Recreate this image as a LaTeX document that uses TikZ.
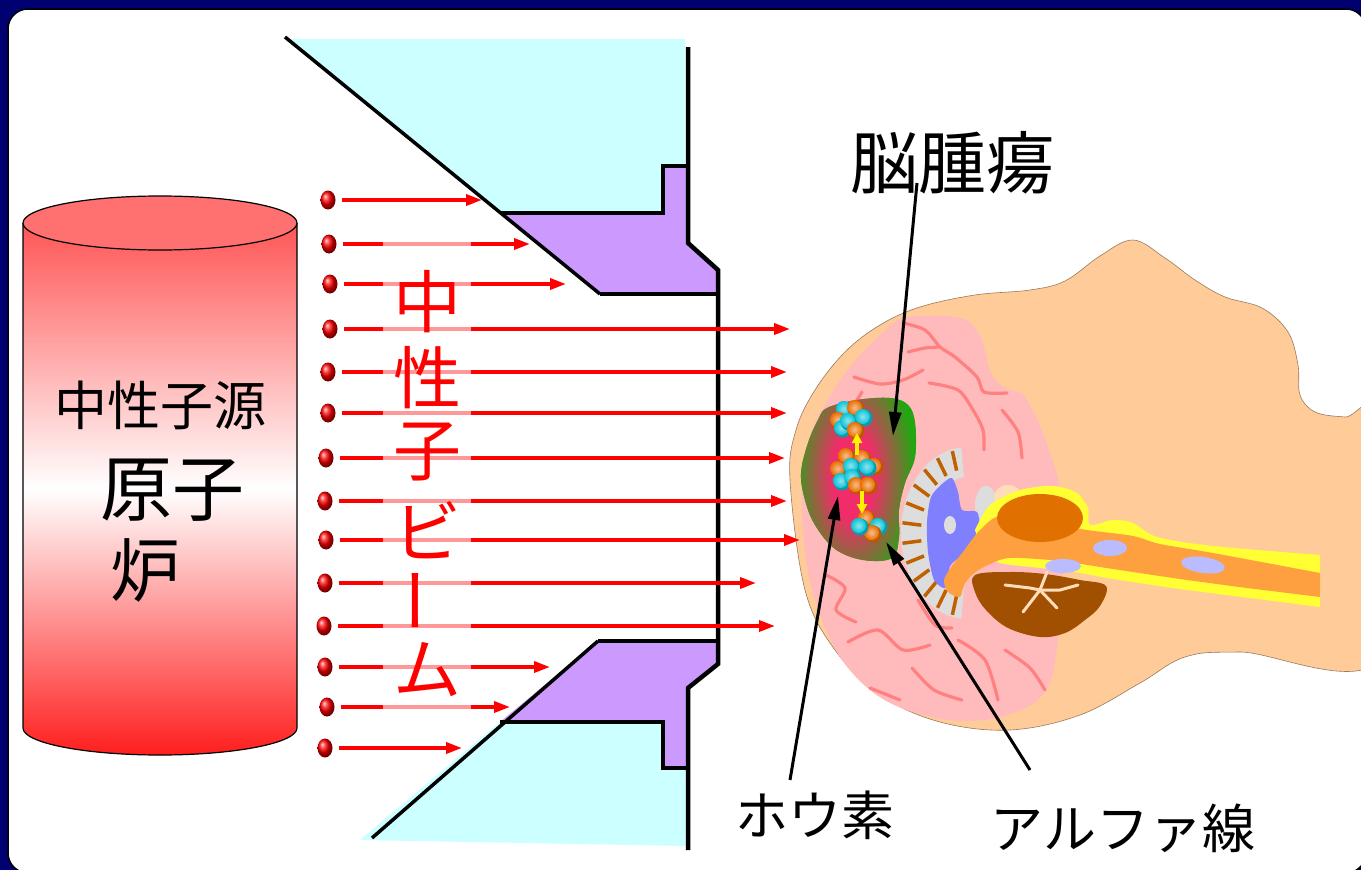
\documentclass[tikz,border=0pt]{standalone}
\usepackage{fontspec}
\setmainfont{Noto Sans CJK JP}
\usetikzlibrary{arrows.meta,shapes.geometric}

\definecolor{frameblue}{RGB}{0,0,112}
\definecolor{shieldcyan}{RGB}{204,255,255}
\definecolor{shieldlilac}{RGB}{204,153,255}
\definecolor{cyltop}{RGB}{255,112,112}
\definecolor{cylupper}{RGB}{255,85,85}
\definecolor{cylbot}{RGB}{255,30,30}
\definecolor{skin}{RGB}{255,204,153}
\definecolor{brainpink}{RGB}{255,187,187}
\definecolor{foldpink}{RGB}{255,128,128}
\definecolor{tumorgreen}{RGB}{36,165,18}
\definecolor{tumorcore}{RGB}{240,45,105}
\definecolor{ventgrey}{RGB}{221,221,221}
\definecolor{tickbrown}{RGB}{192,96,0}
\definecolor{ventblue}{RGB}{128,128,255}
\definecolor{stemyellow}{RGB}{255,255,51}
\definecolor{stemorange}{RGB}{255,160,64}
\definecolor{ponsorange}{RGB}{224,112,0}
\definecolor{cerebbrown}{RGB}{160,80,0}
\definecolor{paleskin}{RGB}{255,221,187}
\definecolor{lilacspot}{RGB}{187,187,255}
\definecolor{atomorange}{RGB}{235,110,0}
\definecolor{atomcyan}{RGB}{10,195,215}

% glowing core of the tumour, fading to green
\pgfdeclareradialshading{tumorglow}{\pgfpoint{0bp}{0bp}}{%
  color(0bp)=(tumorcore); color(6bp)=(tumorcore);
  color(17bp)=(tumorgreen); color(50bp)=(tumorgreen)}

\tikzset{
  beam/.style={red, line width=3.5pt, shorten <=6pt, -{Triangle[length=16pt,width=11pt]}},
  beamdot/.style={ellipse, minimum width=15pt, minimum height=19pt, inner sep=0pt,
                  shading=ball, ball color=red},
  pointer/.style={black, line width=3pt, -{Triangle[length=24pt,width=12pt]}},
  shieldline/.style={black, line width=4.5pt, line join=miter},
  brainfold/.style={foldpink, line width=3.2pt, line cap=round},
  ventick/.style={tickbrown, line width=3.5pt},
  treeline/.style={paleskin, line width=3pt, line cap=round},
  hoparrow/.style={yellow, line width=4pt, -{Triangle[length=10pt,width=10pt]}},
  caption/.style={font=\fontsize{53}{53}\selectfont, inner sep=0pt},
  beamchar/.style={text=red, font=\fontsize{68}{68}\selectfont, inner sep=0pt},
  cyltext/.style={inner sep=0pt},
}

% one glossy sphere of a boron cluster
\newcommand{\atom}[3]{%
  \fill[#1!80!black] (#2,#3) circle[radius=8.5pt];
  \shade[inner color=#1!45!white, outer color=#1] (#2-1.5,#3-1.5) circle[radius=7.5pt];}

\begin{document}
\begin{tikzpicture}[x=1pt,y=-1pt]
\useasboundingbox (0,0) rectangle (1361,870);

% frame and card
\fill[frameblue] (0,0) rectangle (1361,870);
\filldraw[fill=white, draw=black, line width=1.5pt, rounded corners=20pt] (8,9) rectangle (1366,873);

% ---------------- head ----------------
\filldraw[fill=skin, draw=skin!60!black, line width=0.6pt]
  plot[smooth cycle, tension=0.6] coordinates {
  (790,480) (796,430) (815,390) (845,352) (880,325) (920,307) (975,295) (1030,290)
  (1065,281) (1100,256) (1133,240) (1165,258) (1195,280) (1225,297) (1262,308)
  (1288,332) (1298,365) (1300,395) (1315,412) (1345,417) (1385,418) (1385,655)
  (1240,652) (1185,657) (1140,683) (1080,715) (1010,730) (940,722) (880,695)
  (835,650) (805,590)};

% brain
\fill[brainpink] plot[smooth cycle, tension=0.6] coordinates {
  (836,387) (854,362) (880,335) (903,318) (940,316) (966,320) (981,338) (990,370)
  (1003,387) (1022,394) (1036,417) (1048,447) (1060,490) (1063,560) (1058,640)
  (1045,692) (1005,716) (950,720) (890,703) (848,668) (822,620) (806,560)
  (802,480) (812,430)};

% folds of the cortex
\draw[brainfold] plot[smooth] coordinates {(903,323) (925,330) (940,347) (955,357) (977,377) (984,392) (1007,393)};
\draw[brainfold] plot[smooth] coordinates {(854,377) (880,384) (903,380) (923,370)};
\draw[brainfold] plot[smooth] coordinates {(929,383) (958,390) (973,410) (983,430) (984,450)};
\draw[brainfold] plot[smooth] coordinates {(908,352) (925,348) (940,347)};
\draw[brainfold] plot[smooth] coordinates {(862,392) (852,408)};
\draw[brainfold] plot[smooth] coordinates {(1002,410) (1018,432) (1022,458)};
\draw[brainfold] plot[smooth] coordinates {(826,575) (845,588) (836,610) (856,622)};
\draw[brainfold] plot[smooth] coordinates {(848,642) (878,630) (903,650) (930,645)};
\draw[brainfold] plot[smooth] coordinates {(912,668) (934,690) (962,700)};
\draw[brainfold] plot[smooth] coordinates {(958,640) (985,660) (998,700)};
\draw[brainfold] plot[smooth] coordinates {(1005,650) (1030,668) (1045,690)};
\draw[brainfold] plot[smooth] coordinates {(870,688) (900,700)};
\draw[brainfold] plot[smooth] coordinates {(918,600) (935,625) (952,628)};

% ventricle crescent with ticks
\begin{scope}[shift={(967,533)}]
  \fill[ventgrey] (95:66pt and 86pt) arc[start angle=95, end angle=265, x radius=66pt, y radius=86pt]
     -- (265:36pt and 56pt) arc[start angle=265, end angle=95, x radius=36pt, y radius=56pt] -- cycle;
  \foreach \a in {103,117,...,257}
    \draw[ventick] (\a:46pt and 64pt) -- (\a:65pt and 84pt);
\end{scope}
\fill[ventgrey] (986,506) ellipse[x radius=11pt, y radius=20pt];
\fill[ventblue] plot[smooth cycle, tension=0.45] coordinates {
  (952,478) (958,492) (962,510) (977,512) (980,530) (977,548) (962,556) (950,566)
  (946,588) (934,580) (928,552) (927,522) (931,497) (942,484)};
\fill[ventgrey] (950,525) ellipse[x radius=6pt, y radius=9pt];

% brainstem, cerebellum and spinal cord
\fill[paleskin] (1008,497) ellipse[x radius=14pt, y radius=12pt];
\fill[cerebbrown] plot[smooth cycle, tension=0.6] coordinates {
  (975,575) (1010,572) (1045,574) (1080,580) (1106,586) (1100,606) (1085,620)
  (1065,633) (1040,637) (1008,628) (986,610) (975,592)};
\fill[stemyellow] plot[smooth] coordinates {(975,530) (990,505) (1020,490) (1053,486) (1077,493) (1088,508) (1090,525) (1113,520) (1133,523) (1157,537) (1213,546) (1320,555)}
  -- (1320,607) -- plot[smooth] coordinates {(1250,598) (1180,589) (1113,579) (1080,573) (1040,568) (1000,563) (982,552)} -- cycle;
\fill[stemorange] plot[smooth] coordinates {(966,548) (980,530) (1000,516) (1040,522) (1087,530) (1133,536) (1160,544) (1213,553) (1320,573)}
  -- (1320,597) -- plot[smooth] coordinates {(1247,588) (1180,579) (1113,569) (1060,561) (1010,558) (988,565) (973,574) (964,585) (960,597) (948,592) (944,580) (952,566)} -- cycle;
\fill[ponsorange] (1040,518) ellipse[x radius=43pt, y radius=24pt];
\fill[lilacspot] (1110,548) ellipse[x radius=17pt, y radius=8pt];
\fill[lilacspot, rotate around={-8:(1203,565)}] (1203,565) ellipse[x radius=22pt, y radius=8pt];
\fill[lilacspot] (1063,566) ellipse[x radius=18pt, y radius=7pt];
\draw[treeline] (1047,572) -- (1040,590) -- (1023,612);
\draw[treeline] (1040,590) -- (1057,608);
\draw[treeline] (1040,590) -- (1030,588) -- (1005,585);
\draw[treeline] (1040,590) -- (1060,590) -- (1078,585);

% tumour: green mass with an elongated glowing core
\begin{scope}
  \clip plot[smooth cycle, tension=0.6] coordinates {
    (827,408) (857,400) (890,398) (908,405) (915,423) (915,457) (905,483) (899,510)
    (899,537) (892,558) (863,560) (835,549) (815,525) (805,500) (801,473) (808,443) (818,420)};
  \fill[tumorgreen] (790,390) rectangle (930,570);
  \begin{scope}[transform canvas={shift={(853,476)}, xscale=0.5}]
    \shade[shading=tumorglow] (0,0) circle[radius=180pt];
  \end{scope}
\end{scope}

% boron clusters
\atom{atomcyan}{845}{410} \atom{atomorange}{856}{409} \atom{atomorange}{839}{421}
\atom{atomcyan}{843}{429} \atom{atomcyan}{849}{422} \atom{atomcyan}{864}{418}
\atom{atomorange}{856}{431}
\atom{atomorange}{847}{457} \atom{atomorange}{863}{459} \atom{atomorange}{839}{470}
\atom{atomorange}{875}{467} \atom{atomcyan}{852}{467} \atom{atomcyan}{868}{468}
\atom{atomcyan}{842}{482} \atom{atomcyan}{853}{478} \atom{atomorange}{857}{486}
\atom{atomorange}{869}{486}
\atom{atomorange}{867}{519} \atom{atomcyan}{879}{527} \atom{atomorange}{873}{534}
\atom{atomcyan}{860}{527}
\coordinate (hopUpFrom) at (857,455);
\coordinate (hopUpTo) at (857,433);
\coordinate (hopDownFrom) at (862,491);
\coordinate (hopDownTo) at (862,514);
\draw[hoparrow] (hopUpFrom) -- (hopUpTo);
\draw[hoparrow] (hopDownFrom) -- (hopDownTo);

% ---------------- collimator ----------------
\fill[shieldcyan] (290,39) -- (685,39) -- (685,166) -- (663,166) -- (663,213) -- (500,213) -- cycle;
\fill[shieldlilac] (503,215) -- (663,215) -- (663,168) -- (686,168) -- (686,243) -- (718,270)
  -- (718,294) -- (600,294) -- cycle;
\fill[shieldlilac] (598,641) -- (718,641) -- (718,663) -- (687,687) -- (687,768) -- (663,768)
  -- (663,722) -- (500,722) -- cycle;
\fill[shieldcyan] (500,722) -- (663,722) -- (663,768) -- (687,768) -- (687,846) -- (360,840) -- cycle;
\draw[shieldline, line width=3.5pt] (285,37) -- (600,294);
\draw[shieldline] (600,294) -- (718,294);
\draw[shieldline] (688,166) -- (663,166) -- (663,213) -- (500,213);
\draw[shieldline] (688,47) -- (688,243) -- (718,270) -- (718,664) -- (688,688) -- (688,850);
\draw[shieldline, line width=3.5pt] (372,838) -- (598,641);
\draw[shieldline] (598,641) -- (718,641);
\draw[shieldline] (688,768) -- (663,768) -- (663,722) -- (500,722);

% ---------------- reactor ----------------
\shade[top color=cylupper, bottom color=cylbot, middle color=white]
  (23,223) -- (23,728) arc[start angle=180, end angle=360, x radius=137pt, y radius=27pt]
  -- (297,223) -- cycle;
\draw[black, line width=1.2pt] (23,223) -- (23,728) arc[start angle=180, end angle=360, x radius=137pt, y radius=27pt]
  -- (297,223);
\filldraw[fill=cyltop, draw=black, line width=1.2pt] (160,223) ellipse[x radius=137pt, y radius=27pt];
\node[cyltext, font=\fontsize{53}{53}\selectfont] (srcA) at (160,405) {中性子源};
\node[cyltext, font=\fontsize{72}{72}\selectfont] (srcB) at (172,490) {原子};
\node[cyltext, font=\fontsize{70}{70}\selectfont] (srcC) at (145,570) {炉};

% ---------------- neutron beam ----------------
\foreach \i/\y/\xd/\xe in {1/200/328/482, 2/244/329/530, 3/284/330/566, 4/329/330/790,
    5/372/328/787, 6/413/328/787, 7/458/326/785, 8/501/325/787, 9/540/326/800,
    10/583/325/756, 11/626/324/775, 12/667/325/550, 13/707/327/510, 14/748/325/462} {
  \node[beamdot] (dot\i) at (\xd,\y) {};
  \coordinate (end\i) at (\xe,\y);
  \draw[beam] (dot\i.east) -- (end\i);
}
\fill[white, fill opacity=0.6] (383,232) rectangle (471,718);
\node[beamchar] (bc1) at (427,302) {中};
\node[beamchar] (bc2) at (427,378) {性};
\node[beamchar] (bc3) at (427,452) {子};
\node[beamchar] (bc4) at (427,530) {ビ};
\node[beamchar, rotate=90] (bc5) at (427,600) {ー};
\node[beamchar] (bc6) at (427,670) {ム};

% ---------------- labels ----------------
\node[inner sep=0pt, font=\fontsize{68}{68}\selectfont] (tumor) at (952,163) {脳腫瘍};
\node[caption] (boron) at (815,815) {ホウ素};
\node[caption] (alpha) at (1123,828) {アルファ線};
\coordinate (tumorFrom) at (917,183);
\coordinate (tumorTip) at (893,436);
\coordinate (boronFrom) at (790,780);
\coordinate (boronTip) at (838,496);
\coordinate (alphaFrom) at (1030,770);
\coordinate (alphaTip) at (886,542);
\draw[pointer] (tumorFrom) -- (tumorTip);
\draw[pointer] (boronFrom) -- (boronTip);
\draw[pointer] (alphaFrom) -- (alphaTip);
\end{tikzpicture}
\end{document}
